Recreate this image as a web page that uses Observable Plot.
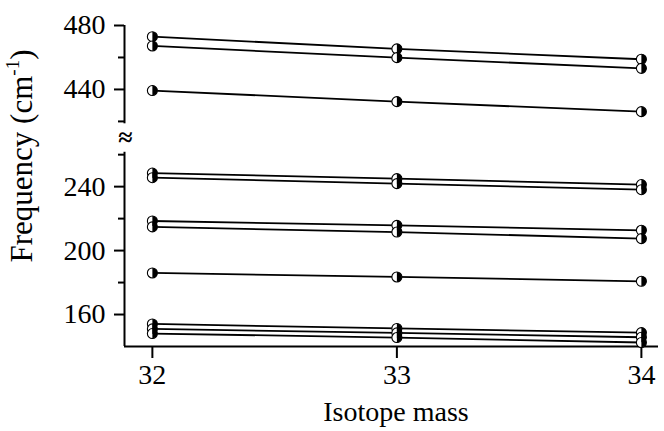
<!DOCTYPE html>
<html><head><meta charset="utf-8">
<script src="https://cdn.jsdelivr.net/npm/d3@7"></script>
<script src="https://cdn.jsdelivr.net/npm/@observablehq/plot@0.6"></script>
<style>html,body{margin:0;padding:0;background:#fff}svg{display:block}</style>
</head><body><div id="chart"></div>
<script>
const isotopes = [32, 33, 34];
const freq32 = [473.0, 467.2, 439.3, 248.5, 245.6, 218.5, 214.8, 186.0, 154.1, 151.0, 148.1];
const freq33 = [465.4, 459.9, 432.4, 245.0, 241.9, 215.8, 211.6, 183.5, 151.3, 148.5, 145.6];
const freq34 = [458.9, 453.2, 426.1, 241.3, 238.1, 212.7, 207.5, 180.8, 148.7, 145.8, 142.5];
const majorTicks = [160, 200, 240, 440, 480];
const minorTicks = [180, 220, 260, 420, 460];
const xTicks = [32, 33, 34];

// broken axis: values above the break are shifted down
const shift = 139.2;
const t = v => v > 300 ? v - shift : v;
const lowSeg = [140, 261.5], highSeg = [418.5, 480];
const xDom = [31.886, 34.07];

const cols = [freq32, freq33, freq34];
const rows = [];
freq32.forEach((_, i) => isotopes.forEach((m, j) => rows.push({mode: i, mass: m, f: cols[j][i]})));

const halfRight = {draw(ctx, size) {
  const r = Math.sqrt(size / Math.PI);
  ctx.moveTo(0, -r); ctx.arc(0, 0, r, -Math.PI / 2, Math.PI / 2); ctx.closePath();
}};

const font = "'Liberation Serif', 'Times New Roman', serif";
const chart = Plot.plot({
  width: 664, height: 431,
  marginTop: 25, marginBottom: 85, marginLeft: 124, marginRight: 6,
  style: {fontFamily: font, fontSize: "28px", color: "#000", background: "#fff"},
  x: {domain: xDom, axis: null},
  y: {domain: [140, 480 - shift], axis: null},
  marks: [
    Plot.ruleY([lowSeg[0]], {stroke: "#000", strokeWidth: 2}),
    Plot.ruleX([xDom[0]], {y1: lowSeg[0], y2: lowSeg[1], stroke: "#000", strokeWidth: 2}),
    Plot.ruleX([xDom[0]], {y1: t(highSeg[0]), y2: t(highSeg[1]), stroke: "#000", strokeWidth: 2}),
    Plot.axisY(majorTicks.map(t), {tickSize: 10, tickPadding: 9, strokeWidth: 2, label: null,
      tickFormat: d => String(Math.round(d > 300 ? d + shift : d))}),
    Plot.axisY(minorTicks.map(t), {tickSize: 6, strokeWidth: 2, label: null, tickFormat: () => ""}),
    Plot.axisX(xTicks, {tickSize: 12, tickPadding: 6, strokeWidth: 2, label: null, tickFormat: d => String(d)}),
    Plot.line(rows, {x: "mass", y: d => t(d.f), z: "mode", stroke: "#000", strokeWidth: 1.8}),
    Plot.dot(rows, {x: "mass", y: d => t(d.f), r: 5, fill: "#fff", stroke: "#000", strokeWidth: 1.1}),
    Plot.dot(rows, {x: "mass", y: d => t(d.f), r: 5, symbol: halfRight, fill: "#000", stroke: "none"}),
    Plot.text(["≈"], {x: xDom[0], y: (t(highSeg[0]) + lowSeg[1]) / 2, text: d => d, fontSize: 26, dx: 1, fontWeight: "bold"})
  ]
});
document.getElementById("chart").append(chart);

const svg = d3.select(chart);
const yl = svg.append("text")
  .attr("transform", "translate(32,156) rotate(-90)")
  .attr("text-anchor", "middle")
  .attr("font-family", font)
  .attr("font-size", 31).attr("fill", "#000");
yl.append("tspan").text("Frequency (cm");
yl.append("tspan").attr("font-size", 19).attr("dy", -13).text("-1");
yl.append("tspan").attr("dy", 13).text(")");

svg.append("text")
  .attr("x", 396).attr("y", 421)
  .attr("text-anchor", "middle")
  .attr("font-family", font)
  .attr("font-size", 28).attr("fill", "#000")
  .text("Isotope mass");
</script>
</body></html>
